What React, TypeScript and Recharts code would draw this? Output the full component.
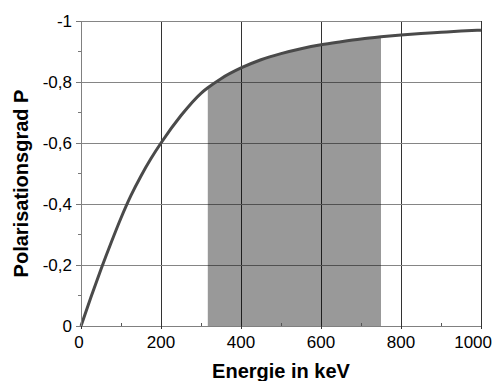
import { ComposedChart, Line, Area, XAxis, YAxis, CartesianGrid } from "recharts";

// readings: energy in keV, degree of polarisation P
const energy = [0, 25, 50, 75, 100, 125, 150, 175, 200, 250, 300, 317, 350, 400, 450, 500, 550, 600, 650, 700, 750, 800, 850, 900, 950, 1000];
const polarisation = [0, -0.095, -0.186, -0.272, -0.354, -0.428, -0.492, -0.549, -0.6, -0.69, -0.763, -0.781, -0.811, -0.846, -0.873, -0.893, -0.909, -0.922, -0.932, -0.941, -0.948, -0.954, -0.959, -0.963, -0.967, -0.97];

// shaded energy band
const shadeFrom = 317;
const shadeTo = 750;

const xTicks = [0, 100, 200, 300, 400, 500, 600, 700, 800, 900, 1000];
const xGrid = [0, 200, 400, 600, 800, 1000];
const yTicks = [0, -0.1, -0.2, -0.3, -0.4, -0.5, -0.6, -0.7, -0.8, -0.9, -1];
const yGrid = [0, -0.2, -0.4, -0.6, -0.8, -1];

const font = "'Liberation Sans', Arial, sans-serif";
const TICK = 3;
const GAP = 4;
const Y_TICK = 5;

const data = energy.map((e, i) => ({
  e,
  p: polarisation[i],
  shade: e >= shadeFrom && e <= shadeTo ? polarisation[i] : null,
}));

function fmtY(v: number) {
  if (Math.abs(v) < 1e-9) return "0";
  if (v === -1) return "-1";
  return v.toFixed(1).replace(".", ",");
}

function XTick({ x, y, payload }: any) {
  const v = payload.value;
  const major = v % 200 === 0;
  const axisY = y - TICK - GAP;
  const anchor = v === 1000 ? "end" : "middle";
  const tx = v === 1000 ? x + 11 : v === 0 ? x - 2 : x;
  return (
    <g shapeRendering="crispEdges">
      {major ? (
        <line x1={x} x2={x} y1={axisY} y2={axisY + TICK} stroke="#333" strokeWidth={1} />
      ) : (
        <line x1={x} x2={x} y1={axisY - TICK} y2={axisY} stroke="#555" strokeWidth={1} />
      )}
      {major && (
        <text x={tx} y={y} dy={15} textAnchor={anchor} fontSize={17} fontFamily={font} fill="#000">
          {v}
        </text>
      )}
    </g>
  );
}

function YTick({ x, y, payload }: any) {
  const v = payload.value;
  const major = Math.round(v * 10) % 2 === 0;
  const axisX = x + Y_TICK + GAP;
  return (
    <g shapeRendering="crispEdges">
      <line x1={axisX - (major ? Y_TICK : TICK)} x2={axisX} y1={y} y2={y} stroke="#777" strokeWidth={1} />
      {major && (
        <text x={x} y={y} dy="0.36em" textAnchor="end" fontSize={17} fontFamily={font} fill="#000">
          {fmtY(v)}
        </text>
      )}
    </g>
  );
}

function XLabel({ viewBox }: any) {
  return (
    <text x={viewBox.x + viewBox.width / 2} y={viewBox.y + 52} textAnchor="middle" fontSize={20} fontWeight="bold" fontFamily={font} fill="#000">
      Energie in keV
    </text>
  );
}

function YLabel({ viewBox }: any) {
  const cx = viewBox.x + 28;
  const cy = viewBox.y + viewBox.height / 2 + 10;
  return (
    <text x={cx} y={cy} transform={`rotate(-90, ${cx}, ${cy})`} textAnchor="middle" fontSize={20} fontWeight="bold" fontFamily={font} fill="#000">
      Polarisationsgrad P
    </text>
  );
}

export default function App() {
  return (
    <div style={{ position: "absolute", left: 0, top: 0, background: "#fff" }}>
      <ComposedChart width={494} height={381} data={data} margin={{ top: 21, right: 13, bottom: 0, left: 0 }}>
        <CartesianGrid horizontal={false} verticalValues={xGrid} stroke="#333" strokeWidth={1} shapeRendering="crispEdges" />
        <CartesianGrid vertical={false} horizontalValues={yGrid} stroke="#858585" strokeWidth={1} shapeRendering="crispEdges" />
        <XAxis
          dataKey="e"
          type="number"
          domain={[0, 1000]}
          ticks={xTicks}
          interval={0}
          tickSize={TICK}
          tickMargin={GAP}
          tickLine={false}
          tick={<XTick />}
          axisLine={{ stroke: "#808080", shapeRendering: "crispEdges" }}
          height={55}
          label={<XLabel />}
        />
        <YAxis
          type="number"
          domain={[-1, 0]}
          reversed
          ticks={yTicks}
          interval={0}
          tickSize={Y_TICK}
          tickMargin={GAP}
          tickLine={false}
          tick={<YTick />}
          axisLine={{ stroke: "#808080", shapeRendering: "crispEdges" }}
          width={81}
          label={<YLabel />}
        />
        <Area
          type="monotone"
          dataKey="shade"
          baseValue={0}
          stroke="none"
          fill="#000"
          fillOpacity={0.4}
          connectNulls={false}
          isAnimationActive={false}
        />
        <Line type="monotone" dataKey="p" stroke="#4a4a4a" strokeWidth={3} dot={false} isAnimationActive={false} />
      </ComposedChart>
    </div>
  );
}
